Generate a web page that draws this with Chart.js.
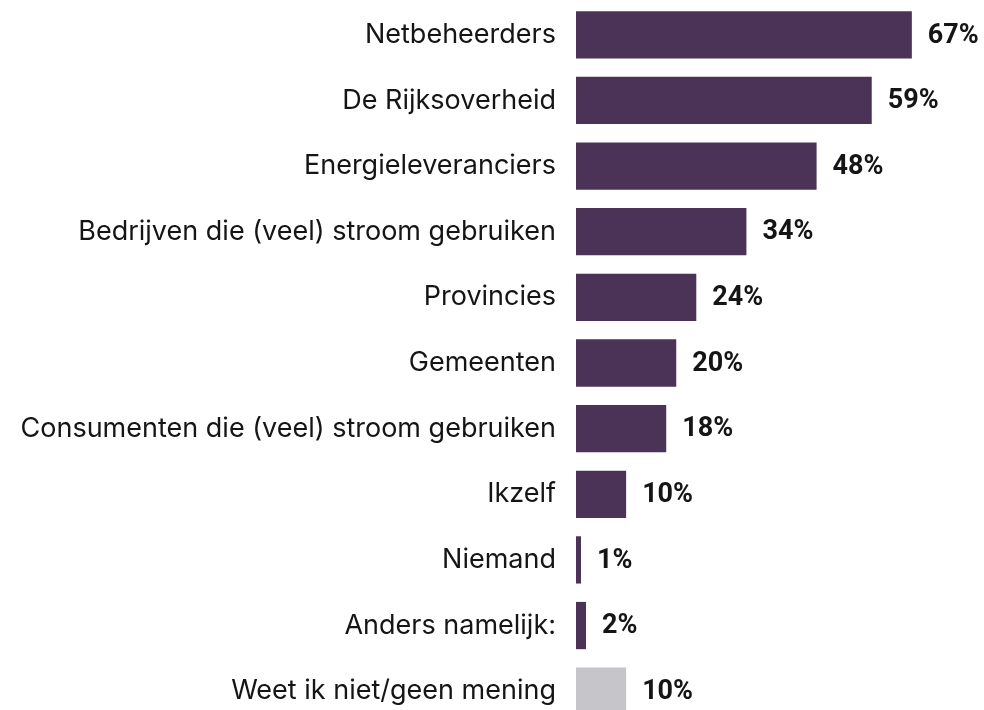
<!DOCTYPE html>
<html>
<head>
<meta charset="utf-8">
<script src="https://cdn.jsdelivr.net/npm/chart.js@4.4.1/dist/chart.umd.min.js"></script>
<style>
  html, body { margin: 0; padding: 0; background: #fff; overflow: hidden; }
  canvas { display: block; }
</style>
</head>
<body>
<canvas id="chart" width="984" height="724"></canvas>
<script>
const categories = [
  "Netbeheerders",
  "De Rijksoverheid",
  "Energieleveranciers",
  "Bedrijven die (veel) stroom gebruiken",
  "Provincies",
  "Gemeenten",
  "Consumenten die (veel) stroom gebruiken",
  "Ikzelf",
  "Niemand",
  "Anders namelijk:",
  "Weet ik niet/geen mening"
];
const values = [67, 59, 48, 34, 24, 20, 18, 10, 1, 2, 10];
const barColors = ["#4b3357", "#4b3357", "#4b3357", "#4b3357", "#4b3357", "#4b3357",
  "#4b3357", "#4b3357", "#4b3357", "#4b3357", "#c6c5ca"];

const LABEL_FONT = "Inter, 'Noto Sans', sans-serif";
const VALUE_FONT = "Roboto, 'Noto Sans', sans-serif";

// percentage labels right of each bar
const valueLabels = {
  id: "valueLabels",
  afterDatasetsDraw(chart) {
    const ctx = chart.ctx;
    const meta = chart.getDatasetMeta(0);
    ctx.save();
    ctx.font = "bold 27px " + VALUE_FONT;
    ctx.fillStyle = "#151515";
    ctx.textAlign = "left";
    ctx.textBaseline = "middle";
    meta.data.forEach((bar, i) => {
      ctx.fillText(values[i] + "%", bar.x + 16, bar.y + 1);
    });
    ctx.restore();
  }
};

new Chart(document.getElementById("chart"), {
  type: "bar",
  data: {
    labels: categories,
    datasets: [{
      data: values,
      backgroundColor: barColors,
      categoryPercentage: 1,
      barPercentage: 0.72,
      minBarLength: 2
    }]
  },
  options: {
    indexAxis: "y",
    responsive: false,
    maintainAspectRatio: false,
    animation: false,
    layout: { padding: { top: 2, right: 7, left: 0, bottom: 0 } },
    plugins: {
      legend: { display: false },
      tooltip: { enabled: false }
    },
    scales: {
      x: {
        min: 0,
        max: 80,
        display: false
      },
      y: {
        grid: { display: false, drawTicks: false },
        border: { display: false },
        afterFit(scale) {
          scale.width = 576;
          scale.paddingTop = 0;
          scale.paddingBottom = 0;
        },
        ticks: {
          padding: 20,
          color: "#151515",
          font: { family: LABEL_FONT, size: 27 }
        }
      }
    }
  },
  plugins: [valueLabels]
});
</script>
</body>
</html>
